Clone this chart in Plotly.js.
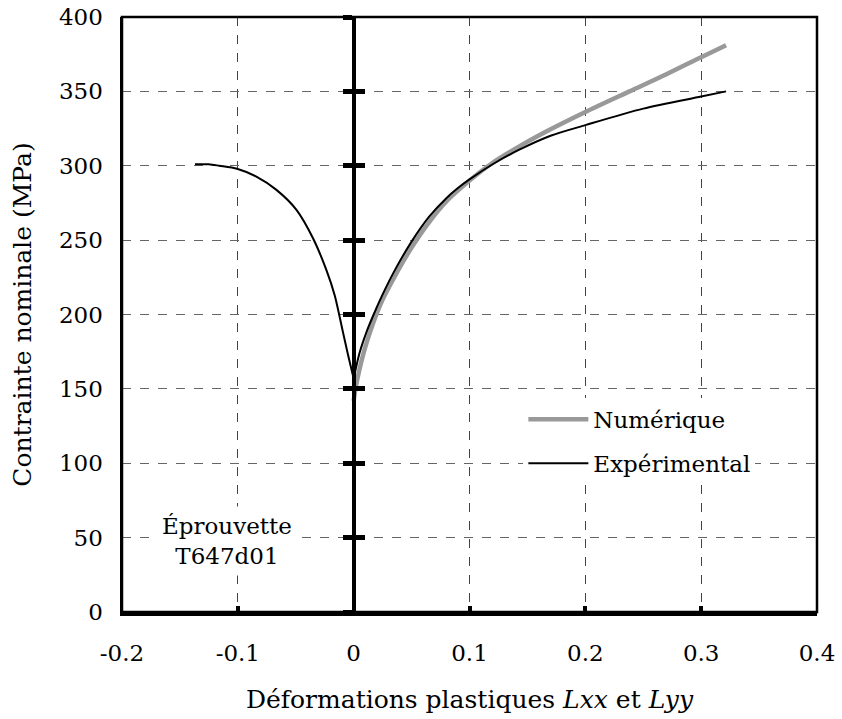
<!DOCTYPE html>
<html><head><meta charset="utf-8">
<script src="https://cdn.plot.ly/plotly-3.0.1.min.js"></script>
<style>body{margin:0;background:#fff}</style>
</head><body>
<div id="chart" style="width:842px;height:719px"></div>
<script>
const xTickVals = [-0.2, -0.1, 0, 0.1, 0.2, 0.3, 0.4];
const xTickText = ["-0.2", "-0.1", "0", "0.1", "0.2", "0.3", "0.4"];
const yTickVals = [0, 50, 100, 150, 200, 250, 300, 350, 400];

// Experimental curve, compression-side branch (Lxx < 0) ending at the cusp
const expNegStrain = [-0.137, -0.125, -0.116, -0.1007, -0.084, -0.0667, -0.0494, -0.0351, -0.0236, -0.0164, -0.0092, -0.0049, 0];
const expNegStress = [301, 301, 300, 298, 292.7, 283.8, 270.4, 251.3, 230, 213, 188, 173, 157];
// Experimental curve, tension-side branch (Lyy > 0) starting at the cusp
const expPosStrain = [0, 0.005, 0.011, 0.0167, 0.025, 0.035, 0.05, 0.065, 0.08, 0.09, 0.1, 0.12, 0.143, 0.17, 0.2, 0.25, 0.30, 0.3215];
const expPosStress = [157, 174, 188, 199, 213.5, 229, 249, 265.6, 278.2, 285, 290.8, 301, 310.8, 320.2, 327.3, 338.4, 346.5, 350];

const numStrain = [0, 0.002, 0.005, 0.01, 0.0167, 0.025, 0.035, 0.05, 0.065, 0.08, 0.1, 0.12, 0.143, 0.17, 0.1996, 0.2381, 0.27, 0.30, 0.3215];
const numStress = [142, 152, 163, 178, 194, 210, 225, 245, 262, 276, 290, 302, 313, 324.5, 336, 350, 361.5, 373, 381];

const FONT = "DejaVu Serif";

const traces = [
  {x: numStrain, y: numStress, type: "scatter", mode: "lines", name: "Numérique",
   line: {color: "#999999", width: 4.5, shape: "spline", smoothing: 0.8}, legendgroup: "a"},
  {x: expNegStrain, y: expNegStress, type: "scatter", mode: "lines", name: "Expérimental",
   line: {color: "#000000", width: 2, shape: "spline", smoothing: 0.8}, legendgroup: "b", showlegend: false},
  {x: expPosStrain, y: expPosStress, type: "scatter", mode: "lines", name: "Expérimental",
   line: {color: "#000000", width: 2, shape: "spline", smoothing: 0.8}, legendgroup: "b"},
  {x: [], y: [], yaxis: "y2", showlegend: false, hoverinfo: "skip"},
  {x: [], y: [], yaxis: "y3", showlegend: false, hoverinfo: "skip"}
];

const yRange = [0, 400];
const axisPos = (0 - (-0.2)) / (0.4 - (-0.2));

const layout = {
  width: 842, height: 719,
  margin: {l: 122, r: 25, t: 17, b: 107},
  paper_bgcolor: "#fff", plot_bgcolor: "#fff",
  font: {family: FONT, size: 22, color: "#000"},
  showlegend: true,
  legend: {
    x: 0.5775, y: 0.36, xanchor: "left", yanchor: "top",
    bgcolor: "#fff", borderwidth: 0,
    font: {family: FONT, size: 23, color: "#000"},
    traceorder: "grouped", tracegroupgap: 11, itemwidth: 60
  },
  xaxis: {
    range: [-0.2, 0.4], tickvals: xTickVals, ticktext: xTickText,
    showgrid: true, gridcolor: "#444", gridwidth: 1, griddash: "dash",
    zeroline: false, showline: true, linecolor: "#000", linewidth: 4,
    ticks: "inside", ticklen: 6, tickwidth: 4, tickcolor: "#000",
    ticklabelstandoff: 17,
    tickfont: {family: FONT, size: 23, color: "#000"},
    title: {text: "Déformations plastiques <i>Lxx</i> et <i>Lyy</i>", font: {family: FONT, size: 25, color: "#000"}, standoff: 27}
  },
  yaxis: {
    range: yRange, tickvals: yTickVals,
    showgrid: true, gridcolor: "#666", gridwidth: 1, griddash: "dash",
    zeroline: false, showline: true, linecolor: "#000", linewidth: 2.5,
    ticks: "", ticklabelstandoff: 12,
    tickfont: {family: FONT, size: 23, color: "#000"},
    title: {text: "Contrainte nominale (MPa)", font: {family: FONT, size: 25, color: "#000"}, standoff: 20}
  },
  yaxis2: {
    range: yRange, tickvals: yTickVals, overlaying: "y", anchor: "free", position: axisPos,
    showgrid: false, zeroline: false, showline: true, linecolor: "#000", linewidth: 4,
    ticks: "outside", ticklen: 9, tickwidth: 5, tickcolor: "#000", showticklabels: false
  },
  yaxis3: {
    range: yRange, tickvals: yTickVals, overlaying: "y", anchor: "free", position: axisPos,
    showgrid: false, zeroline: false, showline: true, linecolor: "#000", linewidth: 4,
    ticks: "inside", ticklen: 9, tickwidth: 5, tickcolor: "#000", showticklabels: false
  },
  shapes: [
    {type: "rect", xref: "paper", yref: "paper", x0: 0, x1: 1, y0: 0, y1: 1,
     line: {color: "#000", width: 2.5}, fillcolor: "rgba(0,0,0,0)", layer: "above"}
  ],
  annotations: [
    {x: -0.109, y: 48, xref: "x", yref: "y", text: "Éprouvette<br>T647d01", showarrow: false,
     bgcolor: "#fff", borderpad: 6, font: {family: FONT, size: 23, color: "#000"}}
  ]
};

Plotly.newPlot("chart", traces, layout, {displayModeBar: false, staticPlot: true});
</script>
</body></html>
